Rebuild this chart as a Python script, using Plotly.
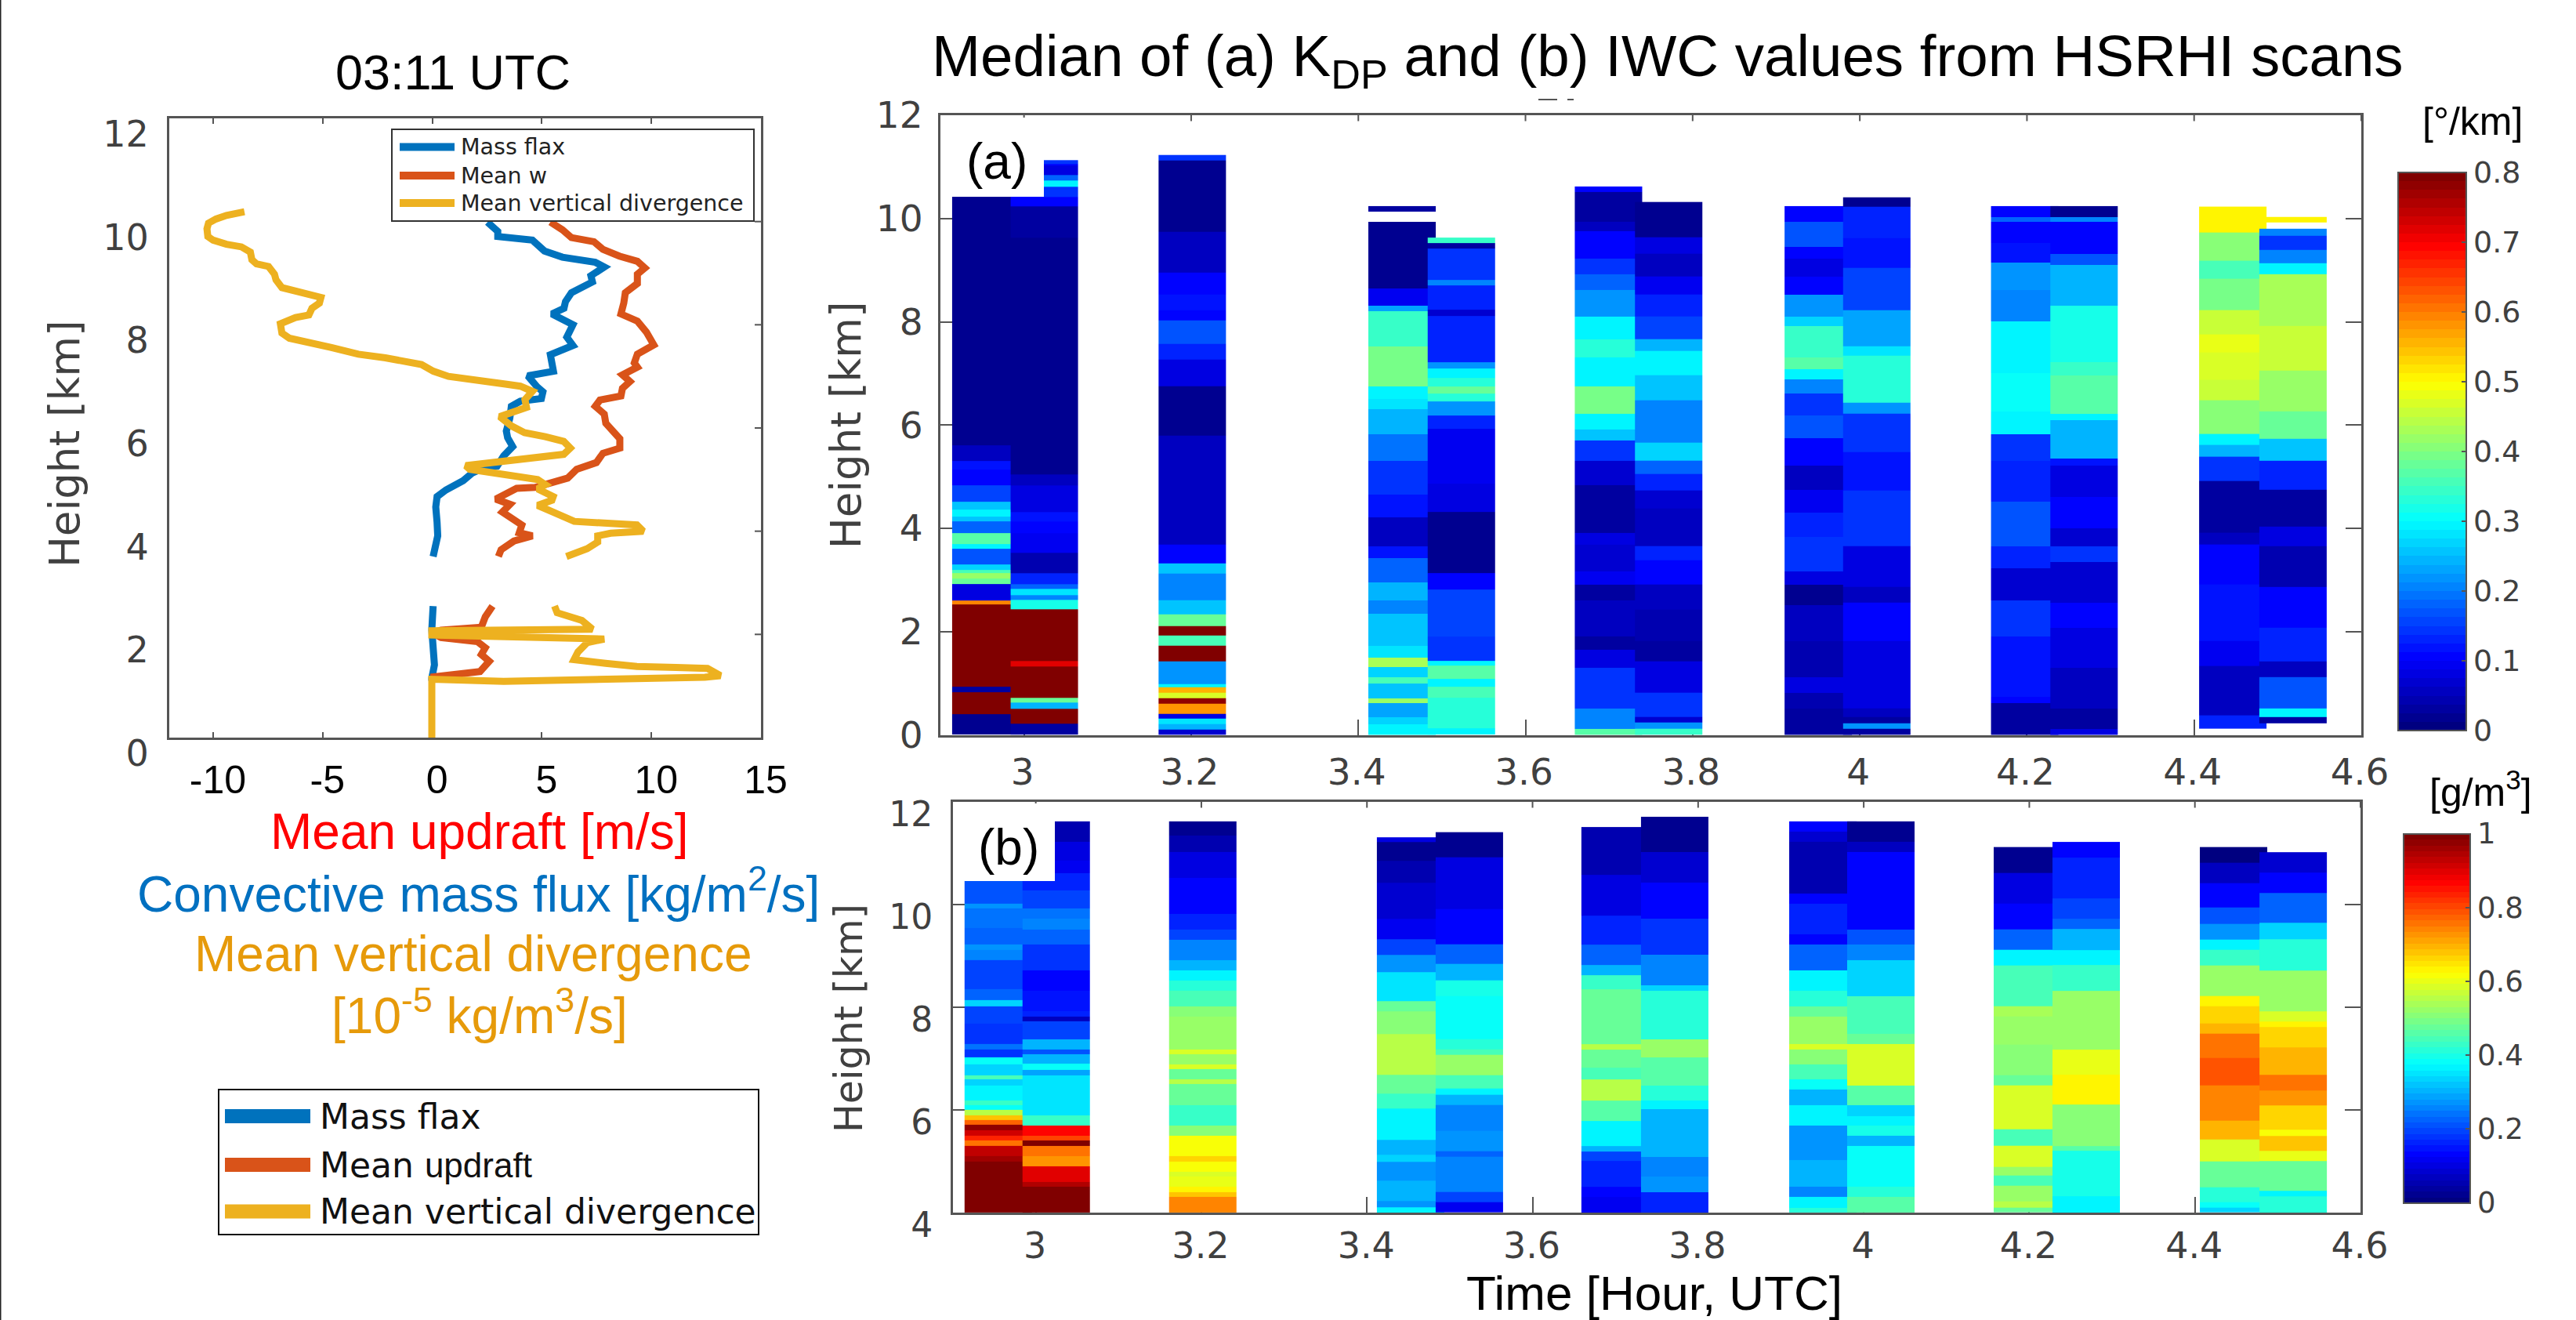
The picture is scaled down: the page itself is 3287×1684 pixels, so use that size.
import plotly.graph_objects as go

W, H = 3287, 1684

# ---------- left panel: profiles at 03:11 UTC ----------
mass_x = [-0.02,-0.02,0.1,0.04,-0.02,0.04,None,
          0.04,0.1,0.25,0.22,0.16,0.22,0.63,1.41,1.83,2.42,2.96,3.26,3.67,3.44,3.38,3.54,3.61,4.02,4.98,5.05,4.78,4.36,5.53,5.39,6.42,6.14,6.42,5.46,6.01,6.08,6.35,7.31,7.24,7.85,7.44,5.94,5.12,4.57,2.99,2.99,2.52]
mass_h = [1.1,1.15,1.41,1.79,2.09,2.55,None,
          3.51,3.66,3.91,4.17,4.47,4.67,4.8,4.98,5.13,5.24,5.26,5.46,5.64,5.81,5.94,6.19,6.42,6.52,6.57,6.7,6.8,7.01,7.1,7.42,7.6,7.76,8.0,8.21,8.32,8.45,8.62,8.83,8.95,9.12,9.21,9.31,9.43,9.64,9.71,9.81,9.99]
w_x = [-0.08,0.4,2.18,2.6,2.24,2.42,2.06,0.4,0,0.4,2.24,2.42,2.75,None,
       3.02,3.14,3.73,4.57,3.97,4.09,3.2,3.55,2.9,3.85,4.69,5.4,6.18,6.59,7.49,7.79,8.56,8.56,8.38,7.92,7.85,7.44,7.65,8.61,8.68,9.02,8.68,9.36,9.22,9.36,10.11,9.98,9.77,9.36,8.61,8.74,8.81,9.36,9.36,9.7,9.36,8.54,7.79,7.38,6.35,5.94,5.39]
w_h = [1.17,1.19,1.28,1.48,1.61,1.74,1.86,1.94,2.03,2.08,2.14,2.34,2.55,None,
       3.51,3.64,3.81,3.91,3.97,4.12,4.37,4.52,4.62,4.83,4.85,4.93,5.03,5.2,5.33,5.51,5.61,5.79,5.89,6.09,6.27,6.42,6.54,6.62,6.77,6.9,7.03,7.18,7.26,7.43,7.61,7.71,7.86,8.07,8.21,8.42,8.62,8.8,8.98,9.1,9.23,9.33,9.46,9.61,9.69,9.84,9.99]
div_x = [-0.02,-0.02,3.26,9.34,12.44,13.15,12.56,11.12,9.34,7.91,6.47,6.65,7.07,7.85,4.93,-0.02,-0.02,3.38,7.31,6.83,5.7,5.58,None,
         6.12,7.07,7.55,7.55,8.14,9.63,9.34,7.91,6.48,5.52,4.81,5.46,5.52,4.81,5.16,4.81,3.26,1.71,1.53,3.02,4.69,6.0,6.3,6.0,5.16,4.21,3.61,3.08,4.3,4.23,4.57,4.02,3.34,1.97,0.74,0.05,-0.49,-2.14,-3.37,-4.6,-5.56,-6.52,-6.86,-6.93,-6.24,-5.63,-5.49,-5.15,-5.08,-6.11,-6.86,-7.13,-7.2,-7.47,-8.02,-8.23,-8.3,-8.71,-9.39,-10.0,-10.24,-10.28,-10.21,-9.87,-9.39,-8.57]
div_h = [0,1.13,1.09,1.13,1.17,1.2,1.34,1.36,1.38,1.44,1.51,1.66,1.84,1.91,1.94,1.99,2.07,2.09,2.1,2.27,2.42,2.55,None,
         3.51,3.66,3.79,3.91,3.96,4.0,4.12,4.14,4.19,4.37,4.5,4.6,4.67,4.82,4.9,5.0,5.1,5.2,5.27,5.34,5.41,5.49,5.61,5.74,5.83,5.91,6.04,6.22,6.4,6.55,6.71,6.81,6.85,6.94,7.0,7.1,7.23,7.36,7.43,7.56,7.65,7.74,7.84,8.02,8.14,8.19,8.32,8.42,8.53,8.65,8.72,8.87,8.98,9.13,9.18,9.26,9.41,9.51,9.56,9.64,9.71,9.86,9.97,10.05,10.12,10.19]

# ---------- scan start times [hour UTC] ----------
scan_start = [2.914,2.984,3.161,3.412,3.483,3.659,3.731,3.91,3.98,4.157,4.228,4.406,4.478]
scan_width = 0.081

# ---------- panel (a) KDP: band edges (km, top to bottom) and values ----------
a1_h = [10.42,5.61,5.31,5.13,4.83,4.52,4.37,4.22,4.13,3.91,3.69,3.61,3.30,3.2,3.13,3.02,2.92,2.6,2.52,.93,.82,.4,0]
a1_v = [.02,.05,.12,.1,.16,.26,.3,.25,.18,.37,.3,.17,.27,.36,.42,.38,.08,.6,.8,.03,.8,.02]
a2_h = [11.13,11.06,11.02,10.84,10.74,10.62,10.42,10.23,9.62,5.05,4.83,4.31,4.13,3.91,3.52,3.13,2.91,2.82,2.71,2.61,2.43,1.43,1.32,.72,.62,.51,.22,0]
a2_v = [.14,.1,.08,.18,.3,.14,.1,.03,.02,.05,.08,.12,.1,.09,.04,.13,.18,.28,.2,.32,.8,.72,.8,.38,.24,.8,.03]
a3_h = [11.23,11.12,9.75,9.23,8.95,8.53,8.23,8.03,7.57,7.27,6.75,5.79,5.48,5.05,4.35,3.69,3.32,3.13,2.61,2.34,2.1,1.93,1.73,1.43,.99,.93,.82,.71,.61,.4,.31,.21,.11,0]
a3_v = [.14,.02,.05,.06,.1,.12,.11,.17,.13,.08,.02,.06,.06,.05,.06,.11,.26,.2,.25,.38,.8,.36,.8,.22,.3,.55,.47,.78,.58,.08,.28,.24,.07]
a4_h = [10.24,10.13,9.93,8.64,8.31,8.21,7.53,6.75,6.51,6.31,5.83,5.31,4.65,4.22,3.65,3.43,2.95,2.61,2.34,1.73,1.49,1.32,1.21,1.11,.99,.71,.61,.34,.2,0]
a4_v = [.03,None,.02,.09,.23,.34,.39,.3,.28,.24,.19,.15,.12,.06,.12,.18,.24,.2,.25,.28,.43,.27,.27,.36,.25,.42,.23,.27,.3]
a5_h = [9.63,9.53,9.42,8.81,8.71,8.23,8.11,7.44,7.21,7.09,6.92,6.74,6.61,6.46,6.18,5.92,4.87,4.31,3.13,2.82,1.91,1.43,1.34,1.08,.93,.72,.12,0]
a5_v = [.35,.03,.14,.2,.13,.07,.13,.13,.22,.3,.33,.38,.33,.22,.13,.09,.08,.02,.11,.16,.14,.3,.37,.3,.36,.33,.29]
a6_h = [10.62,10.52,9.93,9.75,9.23,8.92,8.62,8.1,7.66,7.31,6.75,6.22,5.92,5.7,5.31,4.83,3.91,3.69,3.17,2.91,2.61,2.34,1.91,1.65,1.3,.51,.12,0]
a6_v = [.1,.03,.05,.1,.14,.18,.22,.3,.33,.3,.39,.3,.25,.15,.07,.03,.08,.07,.09,.03,.06,.05,.03,.08,.14,.2,.37]
a7_h = [10.32,9.63,9.32,8.88,8.53,8.1,7.66,7.44,6.96,6.48,5.66,5.31,5.05,4.74,4.39,3.65,3.39,2.91,2.43,1.82,1.43,.82,.34,.24,.12,0]
a7_v = [.02,.08,.06,.09,.13,.16,.24,.3,.25,.21,.27,.18,.13,.07,.05,.13,.1,.06,.04,.03,.08,.14,.07,.22,.34]
a8_h = [10.24,9.93,9.45,9.23,8.88,8.53,8.1,7.92,7.31,7.09,6.88,6.61,6.18,5.74,5.22,4.74,4.31,3.83,3.17,2.91,2.52,1.82,1.12,.82,.51,0]
a8_v = [.1,.17,.11,.08,.11,.22,.27,.35,.37,.29,.2,.14,.17,.11,.05,.09,.13,.15,.08,.02,.06,.04,.08,.04,.03]
a9_h = [10.41,10.23,9.62,9.05,8.23,7.53,7.35,6.44,6.22,5.48,4.74,3.65,2.87,2.56,1.82,.51,.34,.23,.12,0]
a9_v = [.02,.13,.12,.16,.23,.28,.33,.22,.15,.12,.14,.08,.05,.11,.08,.06,.03,.22,.03]
a10_h = [10.24,10.03,9.93,9.53,9.14,8.62,8.01,7.62,7.01,6.27,5.83,5.31,4.52,3.65,3.22,2.61,1.91,.73,.62,0]
a10_v = [.1,.18,.11,.12,.22,.2,.29,.29,.31,.3,.14,.13,.17,.13,.07,.14,.12,.1,.03]
a11_h = [10.24,10.03,9.93,9.32,9.1,8.31,7.22,6.96,6.22,6.09,5.35,5.22,4.61,4.0,3.65,3.35,2.56,2.08,1.3,.51,.12,0]
a11_v = [.02,.2,.11,.17,.24,.32,.35,.37,.29,.24,.12,.08,.1,.07,.14,.07,.1,.08,.06,.03,.08]
a12_h = [10.23,9.73,9.18,8.84,8.23,7.75,7.4,6.88,6.48,5.83,5.61,5.39,4.92,3.91,3.69,2.91,1.82,1.34,.38,.12]
a12_v = [.5,.4,.36,.39,.45,.48,.47,.45,.41,.3,.24,.15,.03,.05,.1,.12,.09,.05,.13]
a13_h = [10.03,9.93,9.81,9.66,9.4,9.14,8.92,7.92,7.05,6.27,5.74,5.31,4.74,4.04,3.65,2.87,2.08,1.43,1.12,.51,.34,.23]
a13_v = [.5,None,.2,.14,.2,.29,.43,.45,.42,.38,.25,.13,.03,.08,.04,.1,.13,.06,.17,.3,.03]

# ---------- panel (b) IWC ----------
b1_h = [10.46,10.02,9.92,9.55,9.22,9.12,8.92,8.35,8.14,8.02,7.68,7.28,7.18,7.02,6.88,6.68,6.6,6.48,6.18,6.1,6.0,5.9,5.81,5.71,5.61,5.5,5.4,5.3,5.1,5.0,4]
b1_v = [.21,.27,.24,.23,.27,.26,.2,.22,.33,.2,.18,.24,.18,.38,.34,.45,.33,.36,.43,.38,.55,.68,.77,.97,.92,.83,.76,.93,.96,1.0]
b2_h = [11.62,11.22,10.85,10.62,10.28,9.92,9.72,9.52,9.22,8.72,8.32,7.92,7.82,7.73,7.38,7.18,7.08,6.9,6.78,6.68,6.38,5.9,5.7,5.5,5.41,5.3,5.1,4.9,4.6,4.5,4]
b2_v = [.05,.1,.11,.17,.2,.24,.26,.22,.18,.14,.15,.17,.07,.2,.3,.21,.3,.38,.29,.35,.35,.43,.87,.8,1.0,.75,.73,.9,.95,1.0]
b3_h = [11.62,11.35,11.02,10.52,9.82,9.52,9.32,8.92,8.72,8.52,8.32,8.02,7.82,7.18,7.08,6.88,6.8,6.6,6.5,6.1,5.7,5.5,5.1,5.0,4.8,4.7,4.5,4.4,4.3,4]
b3_v = [.02,.06,.1,.13,.17,.2,.26,.3,.36,.41,.44,.5,.53,.58,.53,.58,.48,.55,.47,.43,.5,.62,.67,.62,.58,.6,.63,.68,.74]
b4_h = [11.31,11.22,10.85,10.42,9.72,9.32,9.02,8.68,8.12,7.92,7.48,6.68,6.32,6.02,5.42,5.12,4.99,4.62,4.22,4.1,4]
b4_v = [.1,.03,.05,.08,.12,.2,.28,.35,.47,.5,.55,.47,.43,.36,.3,.34,.27,.3,.28,.36]
b5_h = [11.41,10.92,9.92,9.22,8.85,8.52,8.22,7.38,7.18,7.08,6.68,6.42,6.29,6.09,5.59,5.19,5.09,4.4,4.2,4]
b5_v = [.03,.1,.13,.22,.31,.4,.38,.41,.45,.52,.44,.36,.3,.26,.27,.22,.25,.2,.12]
b6_h = [11.51,10.58,9.78,9.22,8.82,8.62,8.35,7.28,7.18,6.82,6.6,6.18,5.79,5.29,5.19,5.0,4.5,4.3,4]
b6_v = [.06,.1,.16,.23,.3,.43,.48,.55,.48,.44,.56,.46,.37,.3,.2,.17,.13,.12]
b7_h = [11.71,11.02,10.42,9.72,9.02,8.42,8.32,7.38,7.02,6.48,6.18,6.02,5.09,4.7,4.4,4]
b7_v = [.03,.09,.13,.18,.26,.33,.42,.52,.46,.42,.36,.31,.25,.28,.17]
b8_h = [11.62,11.42,11.22,10.22,10.02,9.42,9.22,8.72,8.32,8.02,7.82,7.28,7.18,6.88,6.6,6.4,6.1,5.7,5.02,4.5,4.3,4.1,4]
b8_v = [.13,.08,.05,.13,.17,.14,.23,.36,.42,.47,.53,.58,.5,.44,.38,.3,.36,.28,.3,.25,.36,.42]
b9_h = [11.62,11.22,11.02,9.52,9.22,8.92,8.22,7.48,7.28,6.48,6.1,5.88,5.69,5.5,5.3,4.8,4.5,4.3,4]
b9_v = [.02,.07,.13,.21,.26,.33,.44,.47,.58,.46,.33,.36,.4,.3,.38,.38,.42,.46]
b10_h = [11.12,10.62,10.02,9.52,9.12,8.82,8.02,7.82,7.28,6.68,6.48,5.62,5.3,4.89,4.72,4.52,4.22,4.1,4]
b10_v = [.03,.1,.13,.22,.37,.44,.54,.53,.51,.48,.58,.44,.59,.52,.45,.52,.56,.47]
b11_h = [11.22,10.92,10.12,9.72,9.52,9.12,8.82,8.32,7.18,6.68,6.1,5.3,5.2,4.32,4]
b11_v = [.14,.17,.2,.22,.3,.37,.43,.53,.6,.64,.5,.46,.4,.37]
b12_h = [11.12,10.82,10.42,9.95,9.62,9.32,9.12,8.82,8.22,8.02,7.68,7.48,7.02,6.48,5.79,5.42,5.0,4.5,4.2,4.1,4]
b12_v = [.01,.07,.14,.21,.28,.36,.43,.52,.63,.66,.7,.75,.79,.74,.69,.58,.48,.42,.38,.33]
b13_h = [11.02,10.62,10.22,9.65,9.32,8.72,7.92,7.72,7.62,7.22,6.68,6.38,6.09,5.62,5.5,5.2,5.0,4.42,4.32,4]
b13_v = [.08,.13,.22,.33,.42,.52,.58,.63,.66,.7,.76,.73,.67,.62,.68,.6,.47,.37,.42]

a_edges = [a1_h,a2_h,a3_h,a4_h,a5_h,a6_h,a7_h,a8_h,a9_h,a10_h,a11_h,a12_h,a13_h]
a_vals  = [a1_v,a2_v,a3_v,a4_v,a5_v,a6_v,a7_v,a8_v,a9_v,a10_v,a11_v,a12_v,a13_v]
b_edges = [b1_h,b2_h,b3_h,b4_h,b5_h,b6_h,b7_h,b8_h,b9_h,b10_h,b11_h,b12_h,b13_h]
b_vals  = [b1_v,b2_v,b3_v,b4_v,b5_v,b6_v,b7_v,b8_v,b9_v,b10_v,b11_v,b12_v,b13_v]

time_ticks = [3,3.2,3.4,3.6,3.8,4,4.2,4.4,4.6]
time_labels = ["3","3.2","3.4","3.6","3.8","4","4.2","4.4","4.6"]

BLUE, ORANGE, YELLOW = "#0072BD", "#D95319", "#EDB120"
SANS, DEJA = "Liberation Sans", "DejaVu Sans"
GREY = "#404040"
AXC = "#555555"


def px(x): return x / W
def py(y): return 1 - y / H


def jet(n=64):
    def c(v): return max(0.0, min(1.0, v))
    stops = []
    for i in range(n):
        t = i / (n - 1)
        col = "rgb(%d,%d,%d)" % tuple(round(255 * c(1.5 - abs(4 * t - k))) for k in (3, 2, 1))
        stops += [[i / n, col], [(i + 1) / n, col]]
    return stops


fig = go.Figure()

# left panel lines
for xs, ys, col, name in ((mass_x, mass_h, BLUE, "Mass flax"), (w_x, w_h, ORANGE, "Mean w"), (div_x, div_h, YELLOW, "Mean vertical divergence")):
    fig.add_trace(go.Scatter(x=xs, y=ys, mode="lines", name=name, line=dict(color=col, width=9, shape="linear"),
                             xaxis="x", yaxis="y", showlegend=False, connectgaps=False))


def add_cols(edges, vals, xa, ya, ca):
    for t, h, v in zip(scan_start, edges, vals):
        if len(h) != len(v) + 1:
            raise ValueError(f"band mismatch {ca} {t}: {len(h)} {len(v)}")
        fig.add_trace(go.Heatmap(x=[t, t + scan_width], y=h[::-1], z=[[a] for a in v[::-1]], xaxis=xa, yaxis=ya,
                                 coloraxis=ca, hoverongaps=False, zsmooth=False))


add_cols(a_edges, a_vals, "x2", "y2", "coloraxis")
add_cols(b_edges, b_vals, "x3", "y3", "coloraxis2")

shapes = []
ann = []


def text(x, y, s, size, color="black", family=SANS, xanchor="center", angle=0):
    ann.append(dict(x=px(x), y=py(y), xref="paper", yref="paper", text=s, showarrow=False, xanchor=xanchor, yanchor="middle",
                    font=dict(size=size, color=color, family=family), textangle=angle))


# small inward ticks that only sit on one side
for xa, ya, hpx in (("x2", "y2", 790), ("x3", "y3", 524)):
    for t in time_ticks:
        shapes.append(dict(type="line", xref=xa, yref=ya + " domain", x0=t, x1=t, y0=1, y1=1 - 7.5 / hpx,
                           line=dict(color=AXC, width=2), layer="below"))
for h in (2, 4, 6, 8, 10):
    shapes.append(dict(type="line", xref="x domain", yref="y", x0=1, x1=1 - 8 / 755, y0=h, y1=h,
                       line=dict(color=AXC, width=2), layer="below"))


def rect(x0, y0, x1, y1, line=None):
    shapes.append(dict(type="rect", xref="paper", yref="paper", x0=px(x0), x1=px(x1), y0=py(y0), y1=py(y1), fillcolor="white",
                       line=dict(color=line or "white", width=2 if line else 0), layer="above"))


def key(x0, x1, y, col, w):
    shapes.append(dict(type="line", xref="paper", yref="paper", x0=px(x0), x1=px(x1), y0=py(y), y1=py(y), line=dict(color=col, width=w), layer="above"))


# legend inside left panel
rect(500, 165, 962, 282, "#333333")
for y, col, s in ((187.5, BLUE, "Mass flax"), (224, ORANGE, "Mean w"), (259, YELLOW, "Mean vertical divergence")):
    key(510, 580, y, col, 10)
    text(586, y, s, 28.5, "#222222", DEJA, "left")

# legend below left panel
rect(279, 1390, 968, 1575, "#111111")
for y, col, s in ((1424, BLUE, "Mass flax"),
                  (1486, ORANGE, 'Mean <span style="font-family:Liberation Sans">updraft</span>'),
                  (1545.5, YELLOW, "Mean vertical divergence")):
    key(287, 396, y, col, 18)
    text(406, y, s, 44, "#111111", DEJA, "left")

# panel-letter boxes
rect(1215, 150, 1332, 251)
rect(1231, 1025, 1346, 1124)
text(1272, 206, "(a)", 64)
text(1287, 1081, "(b)", 64)

# free texts
text(578, 92, "03:11 UTC", 63)
text(2128, 77, "Median of (a) K<sub>DP</sub> and (b) IWC values from HSRHI scans", 74.5)
text(612, 1061, "Mean updraft [m/s]", 64, "#FF0000")
text(610, 1136, "Convective mass flux [kg/m<sup>2</sup>/s]", 64, "#0070C0")
text(603, 1217, "Mean vertical divergence", 64, "#E69A0A")
text(612, 1291, "[10<sup>-5</sup> kg/m<sup>3</sup>/s]", 64, "#E69A0A")
text(2111, 1649, "Time [Hour, UTC]", 62)
text(3155, 155, "[°/km]", 50)
text(3165, 1007, "[g/m<sup>3</sup>]", 50)
text(82, 566, "Height [km]", 53, GREY, DEJA, angle=-90)
text(1083, 1299, "Height [km]", 49, GREY, DEJA, angle=-90)
# thin page edge and the stray dashes beneath the title
shapes.append(dict(type="line", xref="paper", yref="paper", x0=0, x1=0, y0=0, y1=1, line=dict(color="#222222", width=3), layer="above"))
for x0, x1 in ((1963, 1987), (2000, 2008)):
    shapes.append(dict(type="line", xref="paper", yref="paper", x0=px(x0), x1=px(x1), y0=py(127), y1=py(127), line=dict(color="#555555", width=2), layer="above"))

common = dict(showline=True, linecolor=AXC, linewidth=3, showgrid=False, zeroline=False, layer="below traces", tickcolor=AXC, tickwidth=2)

fig.update_layout(
    width=W, height=H, autosize=False, margin=dict(l=0, r=0, t=0, b=0, autoexpand=False), paper_bgcolor="white", plot_bgcolor="white", showlegend=False,
    shapes=shapes, annotations=ann,
    xaxis=dict(domain=[px(216), px(971)], range=[-12, 15], anchor="y", tickvals=[-10, -5, 0, 5, 10, 15], ticktext=["-10", "-5", "0", "5", "10", "15"],
               ticks="inside", ticklen=7, mirror="ticks", tickfont=dict(family=SANS, size=50, color="black"), ticklabelstandoff=8, ticklabelshift=6, **common),
    yaxis=dict(domain=[py(941), py(151)], range=[0, 12], anchor="x", tickvals=[0, 2, 4, 6, 8, 10, 12], ticks="", mirror=True,
               tickfont=dict(family=DEJA, size=46, color=GREY), ticklabelstandoff=14, ticklabelshift=20, **common),
    xaxis2=dict(domain=[px(1200), px(3013)], range=[2.9, 4.6], anchor="y2", tickvals=time_ticks, ticktext=time_labels, ticks="inside", ticklen=20, mirror=True,
                tickfont=dict(family=DEJA, size=47, color=GREY), ticklabelstandoff=4, ticklabelshift=-2, **common),
    yaxis2=dict(domain=[py(937.5), py(147)], range=[0, 12], anchor="x2", tickvals=[0, 2, 4, 6, 8, 10, 12], ticks="inside", ticklen=20, mirror="ticks",
                tickfont=dict(family=DEJA, size=47, color=GREY), ticklabelstandoff=10,
                title=dict(text="Height [km]", font=dict(family=DEJA, size=53, color=GREY), standoff=3), **common),
    xaxis3=dict(domain=[px(1216), px(3012)], range=[2.9, 4.6], anchor="y3", tickvals=time_ticks, ticktext=time_labels, ticks="inside", ticklen=20, mirror=True,
                tickfont=dict(family=DEJA, size=46, color=GREY), ticklabelstandoff=0, ticklabelshift=-1, **common),
    yaxis3=dict(domain=[py(1547), py(1023)], range=[4, 12], anchor="x3", tickvals=[4, 6, 8, 10, 12], ticks="inside", ticklen=20, mirror="ticks",
                tickfont=dict(family=DEJA, size=44, color=GREY), ticklabelstandoff=14, ticklabelshift=16, **common),
    coloraxis=dict(cmin=0, cmax=0.8, colorscale=jet(), colorbar=dict(
        x=px(3060), xanchor="left", xpad=0, thickness=87, thicknessmode="pixels", len=(932 - 220.5) / H, lenmode="fraction", y=py(932), yanchor="bottom", ypad=0,
        tickvals=[0, .1, .2, .3, .4, .5, .6, .7, .8], ticktext=["0", "0.1", "0.2", "0.3", "0.4", "0.5", "0.6", "0.7", "0.8"],
        ticks="inside", ticklen=7, tickcolor=AXC, tickwidth=2, outlinecolor=AXC, outlinewidth=2, tickfont=dict(family=DEJA, size=38, color=GREY))),
    coloraxis2=dict(cmin=0, cmax=1, colorscale=jet(), colorbar=dict(
        x=px(3067), xanchor="left", xpad=0, thickness=85, thicknessmode="pixels", len=(1534.5 - 1064) / H, lenmode="fraction", y=py(1534.5), yanchor="bottom", ypad=0,
        tickvals=[0, .2, .4, .6, .8, 1], ticktext=["0", "0.2", "0.4", "0.6", "0.8", "1"],
        ticks="inside", ticklen=7, tickcolor=AXC, tickwidth=2, outlinecolor=AXC, outlinewidth=2, tickfont=dict(family=DEJA, size=37, color=GREY))),
)

fig.write_html("out.html", config={"displayModeBar": False}, post_script="document.body.style.margin='0';")
